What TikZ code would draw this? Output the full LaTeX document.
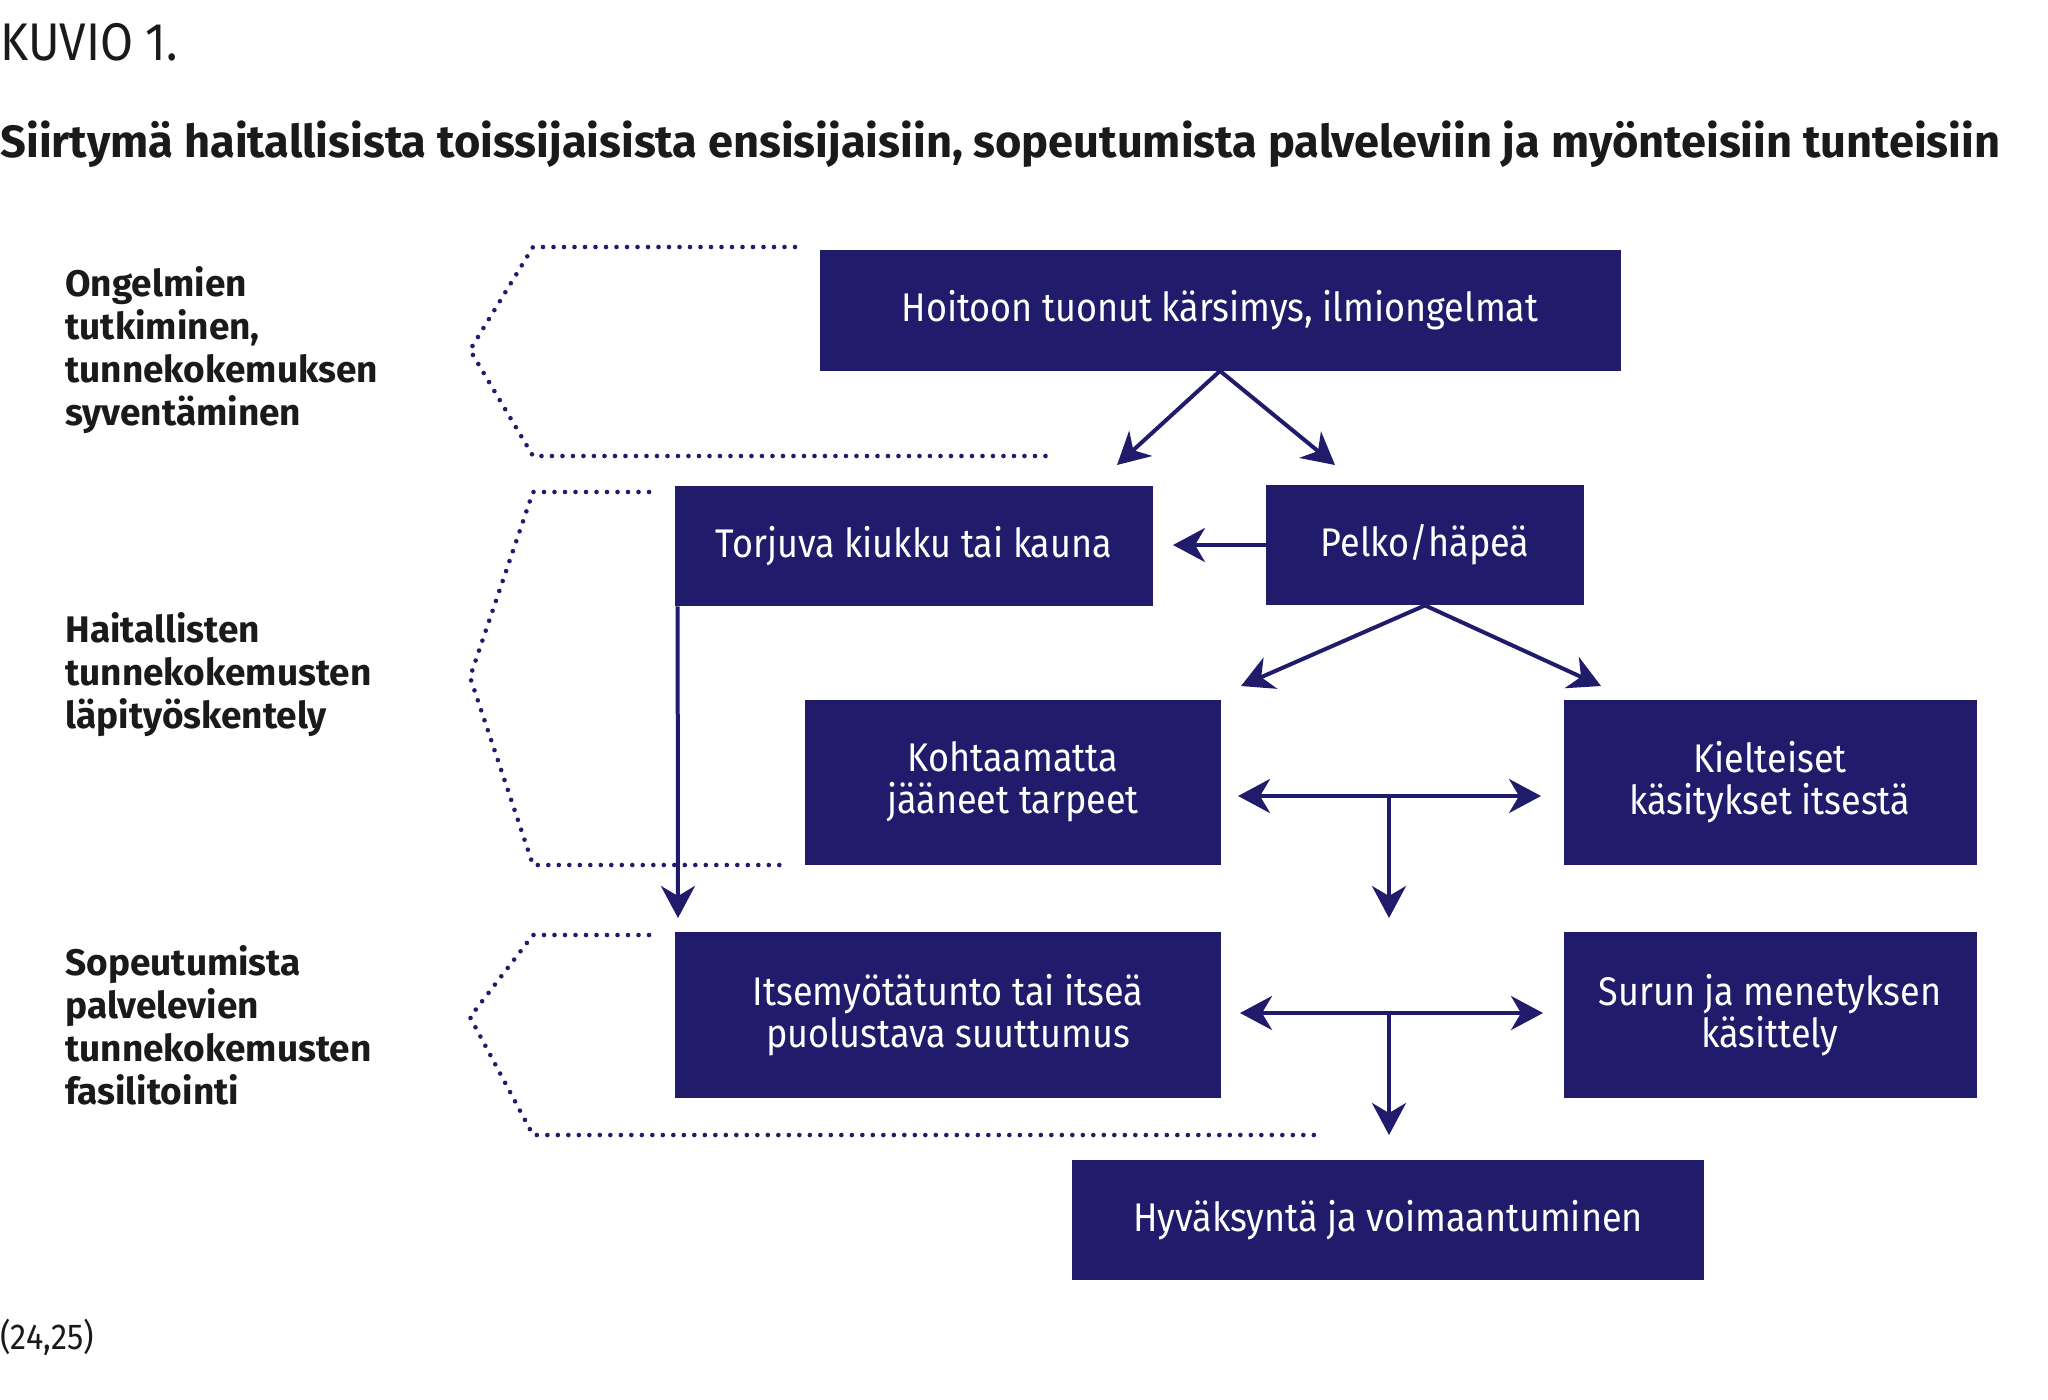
\documentclass[tikz,border=0pt]{standalone}
\usepackage{fontspec}
\setmainfont{Fira Sans}[FakeStretch=0.9]
\newfontfamily\leveafont{Fira Sans}
\usepackage{tikz}
\usetikzlibrary{arrows.meta,positioning,calc}
\definecolor{navy}{RGB}{32,27,106}
\definecolor{teksti}{RGB}{26,26,26}

\begin{document}
\begin{tikzpicture}[x=0.5pt,y=-0.5pt,
  boks/.style={fill=navy,text=white,inner sep=0pt,align=center,
    font=\fontsize{20}{21}\selectfont},
  vaihe/.style={text=teksti,align=left,inner sep=0pt,
    font=\leveafont\bfseries\fontsize{18.5}{21.5}\selectfont},
  nuoli/.style={navy,line width=2pt,
    -{Stealth[length=16pt,width=17pt,inset=5pt]}},
  kaksi/.style={nuoli,{Stealth[length=16pt,width=17pt,inset=5pt]}-{Stealth[length=16pt,width=17pt,inset=5pt]}},
  pisteet/.style={navy,line width=2.3pt,line cap=round,dash pattern=on 0pt off 5.25pt}]
  \useasboundingbox (0,0) rectangle (2048,1399);

  % otsikot
  \node[anchor=base west,inner sep=0pt,text=teksti,font=\fontsize{26.5}{26.5}\selectfont]
    (kuvio) at (0,60) {KUVIO 1.};
  \node[anchor=base west,inner sep=0pt,text=teksti,font=\leveafont\bfseries\fontsize{22.6}{23}\selectfont]
    (otsikko) at (0,157) {Siirtymä haitallisista toissijaisista ensisijaisiin, sopeutumista palveleviin ja myönteisiin tunteisiin};
  \node[anchor=base west,inner sep=0pt,text=teksti,font=\fontsize{18}{18}\selectfont]
    (lahde) at (0,1349) {(24,25)};

  % vaiheet vasemmalla
  \node[vaihe,anchor=west] (vaihe1) at (65,350) {Ongelmien\\tutkiminen,\\tunnekokemuksen\\syventäminen};
  \node[vaihe,anchor=west] (vaihe2) at (65,675) {Haitallisten\\tunnekokemusten\\läpityöskentely};
  \node[vaihe,anchor=west] (vaihe3) at (65,1025) {Sopeutumista\\palvelevien\\tunnekokemusten\\fasilitointi};

  \draw[pisteet] (795,247) -- (533,247) -- (470,350) -- (533,456) -- (1055,456);
  \draw[pisteet] (649,492) -- (533,492) -- (470,677) -- (533,865) -- (781,865);
  \draw[pisteet] (649,935) -- (533,935) -- (470,1017) -- (533,1135) -- (1319,1135);

  % laatikot
  \node[boks,minimum width=400.5pt,minimum height=60.5pt] (hoito) at (1220,310) {Hoitoon tuonut kärsimys, ilmiongelmat};
  \node[boks,minimum width=239pt,minimum height=60pt] (torjuva) at (914,546) {Torjuva kiukku tai kauna};
  \node[boks,minimum width=159pt,minimum height=60pt] (pelko) at (1425,545) {Pelko/häpeä};
  \node[boks,minimum width=208pt,minimum height=82.5pt] (tarpeet) at (1013,782) {Kohtaamatta\\jääneet tarpeet};
  \node[boks,minimum width=206.5pt,minimum height=82.5pt] (kielteiset) at (1770,782) {Kielteiset\\käsitykset itsestä};
  \node[boks,minimum width=273pt,minimum height=83pt] (myotatunto) at (948,1015) {Itsemyötätunto tai itseä\\puolustava suuttumus};
  \node[boks,minimum width=206.5pt,minimum height=83pt] (suru) at (1770,1015) {Surun ja menetyksen\\käsittely};
  \node[boks,minimum width=316pt,minimum height=60pt] (hyvaksynta) at (1388,1220) {Hyväksyntä ja voimaantuminen};

  % nuolet
  \coordinate (h1) at (1117,465);
  \coordinate (h2) at (1335,465);
  \coordinate (p0) at (1173,545);
  \coordinate (p1) at (1241,686);
  \coordinate (p2) at (1601,686);
  \coordinate (t1) at (678,918);
  \coordinate (k1) at (1238,796);
  \coordinate (k2) at (1541,796);
  \coordinate (kk) at (1389,796);
  \coordinate (k3) at (1389,918);
  \coordinate (s1) at (1240,1013);
  \coordinate (s2) at (1543,1013);
  \coordinate (ss) at (1389,1013);
  \coordinate (s3) at (1389,1135);

  \draw[nuoli] (hoito.south) -- (h1);
  \draw[nuoli] (hoito.south) -- (h2);
  \draw[nuoli] (pelko.west) -- (p0);
  \draw[nuoli] (pelko.south) -- (p1);
  \draw[nuoli] (pelko.south) -- (p2);
  \draw[nuoli] ($(torjuva.south west)+(3,0)$) -- (t1);
  \draw[kaksi] (k1) -- (k2);
  \draw[nuoli] (kk) -- (k3);
  \draw[kaksi] (s1) -- (s2);
  \draw[nuoli] (ss) -- (s3);
\end{tikzpicture}
\end{document}
